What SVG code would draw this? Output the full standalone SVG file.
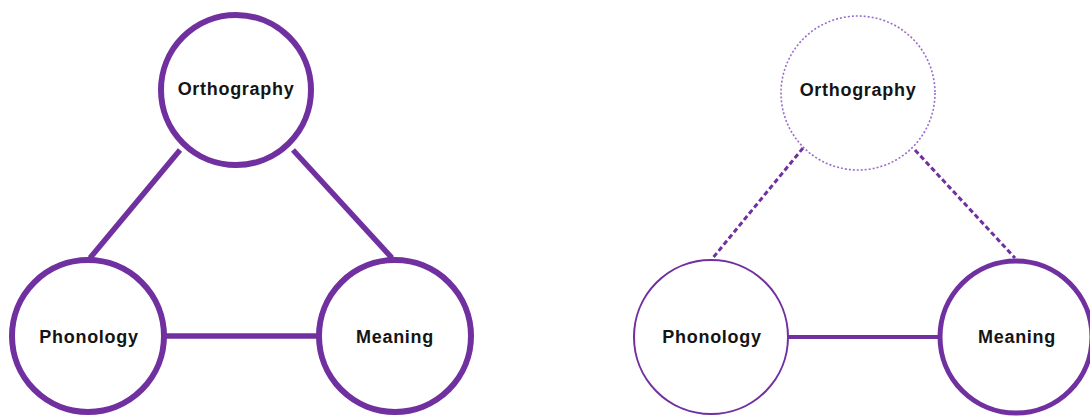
<svg xmlns="http://www.w3.org/2000/svg" width="1090" height="416" viewBox="0 0 1090 416">
<style>
.bg{fill:#ffffff}
.node{fill:#ffffff;stroke:#7030A0}
.thick{stroke-width:6}
.thin{stroke-width:2}
.med{stroke-width:5}
.dotted{stroke:#9A6CCB;stroke-width:1.6;stroke-dasharray:2 2}
.lbl{font-family:"Liberation Sans",Arial,sans-serif;font-weight:bold;font-size:18px;letter-spacing:0.7px;fill:#141414;text-anchor:middle;dominant-baseline:central}
.edge{stroke:#7030A0;fill:none}
.edge-thick{stroke-width:5.5}
.edge-right{stroke-width:4}
.edge-dash{stroke-width:3;stroke-dasharray:5 3}
</style>
<rect class="bg" x="0" y="0" width="1090" height="416"/>
<g id="connectors">
  <line class="edge edge-thick" x1="180" y1="150" x2="90" y2="258"/>
  <line class="edge edge-thick" x1="293" y1="150" x2="392" y2="258"/>
  <line class="edge edge-thick" x1="166" y1="336" x2="317" y2="336"/>
  <line class="edge edge-dash" x1="803" y1="148" x2="712" y2="259"/>
  <line class="edge edge-dash" x1="915" y1="150" x2="1015" y2="258"/>
  <line class="edge edge-right" x1="788" y1="337" x2="940" y2="337"/>
</g>
<g id="left-orthography">
  <circle class="node thick" cx="236" cy="90" r="75"/>
  <text class="lbl" x="236" y="89">Orthography</text>
</g>
<g id="left-phonology">
  <circle class="node thick" cx="88" cy="336" r="76"/>
  <text class="lbl" x="89" y="337">Phonology</text>
</g>
<g id="left-meaning">
  <circle class="node thick" cx="395" cy="336" r="76"/>
  <text class="lbl" x="395" y="337">Meaning</text>
</g>
<g id="right-orthography">
  <circle class="node dotted" cx="858" cy="93" r="77"/>
  <text class="lbl" x="858" y="90">Orthography</text>
</g>
<g id="right-phonology">
  <circle class="node thin" cx="711" cy="337" r="77"/>
  <text class="lbl" x="712" y="337">Phonology</text>
</g>
<g id="right-meaning">
  <circle class="node med" cx="1016" cy="337" r="76"/>
  <text class="lbl" x="1017" y="337">Meaning</text>
</g>
</svg>
